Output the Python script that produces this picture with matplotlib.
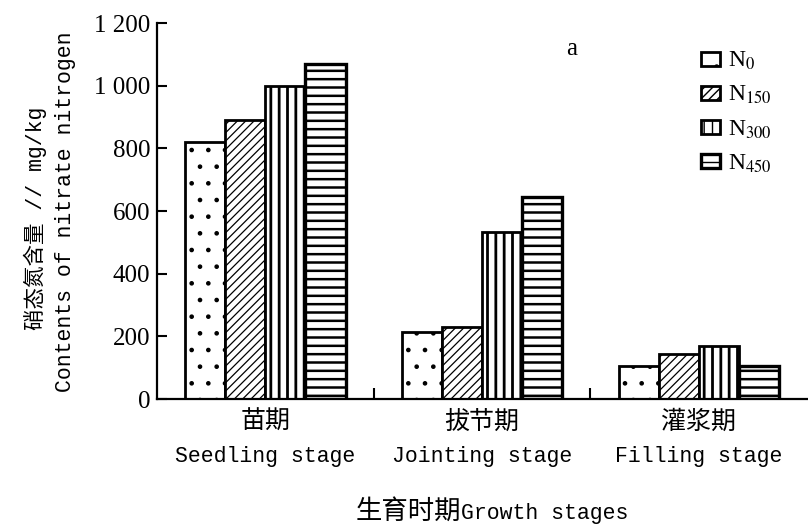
import matplotlib
matplotlib.use("Agg")
import matplotlib.pyplot as plt
import numpy as np

# data (mg/kg)
stages_cn = ["苗期", "拔节期", "灌浆期"]
stages_en = ["Seedling stage", "Jointing stage", "Filling stage"]
n0 = [820, 215, 105]
n150 = [890, 231, 144]
n300 = [1000, 533, 169]
n450 = [1069, 645, 105]
series_labels = ["N$_{0}$", "N$_{150}$", "N$_{300}$", "N$_{450}$"]
yticks = [0, 200, 400, 600, 800, 1000, 1200]
ytick_labels = ["0", "200", "400", "600", "800", "1 000", "1 200"]

plt.rcParams["font.family"] = ["Liberation Serif", "Noto Sans CJK SC"]
plt.rcParams["mathtext.fontset"] = "stix"

mono = ["Liberation Mono", "Noto Sans CJK SC"]
cjk = ["Noto Sans CJK SC"]

fig = plt.figure(figsize=(8.08, 5.24), dpi=100)
ax = fig.add_axes([157 / 808, 1 - 399 / 524, 650 / 808, 376 / 524])

x = np.arange(len(stages_cn))
w = 0.185
hatches = [".", "////", "||", "--"]
hatch_lw = [0.9, 0.9, 2.0, 1.8]
edge_lw = [2.0, 2.0, 2.0, 2.4]
for i, vals in enumerate([n0, n150, n300, n450]):
    with plt.rc_context({"hatch.linewidth": hatch_lw[i]}):
        bars = ax.bar(x + (i - 1.5) * w, vals, w, color="white",
                      edgecolor="black", linewidth=edge_lw[i],
                      hatch=hatches[i], label=series_labels[i])
    for b in bars:
        if hasattr(b, "set_hatch_linewidth"):
            b.set_hatch_linewidth(hatch_lw[i])

ax.set_xlim(-0.5, 2.5)
ax.set_ylim(0, 1200)
ax.spines["top"].set_visible(False)
ax.spines["right"].set_visible(False)
ax.spines["left"].set_linewidth(1.6)
ax.spines["bottom"].set_linewidth(1.6)

ax.set_yticks(yticks)
ax.set_yticklabels(ytick_labels, fontsize=18)
ax.tick_params(axis="y", direction="in", length=7, width=1.5, pad=5)
ax.set_xticks(x)
ax.set_xticklabels([])
ax.tick_params(axis="x", which="major", length=0)
ax.set_xticks([0.5, 1.5], minor=True)
ax.tick_params(axis="x", which="minor", direction="in", length=8, width=1.5)

# category labels, two lines each
for xi, cn, en in zip(x, stages_cn, stages_en):
    ax.text(xi, -0.061, cn, transform=ax.get_xaxis_transform(),
            ha="center", va="center", fontsize=18, family=cjk, weight="light")
    ax.text(xi, -0.154, en, transform=ax.get_xaxis_transform(),
            ha="center", va="center", fontsize=15.5, family=mono)

# x axis title
ax.text(0.468, -0.318, "生育时期", transform=ax.transAxes,
        ha="right", va="baseline", fontsize=19, family=cjk, weight="light")
ax.text(0.468, -0.318, "Growth stages", transform=ax.transAxes,
        ha="left", va="baseline", fontsize=15.5, family=mono)

# y axis title, two lines
fig.text(35 / 808, 1 - 218 / 524, "硝态氮含量 // mg/kg", rotation=90,
         ha="center", va="center", fontsize=15.5, family=mono)
fig.text(66 / 808, 1 - 212 / 524, "Contents of nitrate nitrogen", rotation=90,
         ha="center", va="center", fontsize=15.5, family=mono)

ax.text(572 / 808, 1 - 49 / 524, "a", transform=fig.transFigure,
        ha="center", va="center", fontsize=18)

ax.legend(loc="upper left", bbox_to_anchor=(701 / 808, 1 - 50 / 524),
          bbox_transform=fig.transFigure, frameon=False, fontsize=17,
          handlelength=0.8, handleheight=0.55, handletextpad=0.35,
          labelspacing=0.5, borderpad=0, borderaxespad=0)

fig.savefig("out.png", dpi=100)
